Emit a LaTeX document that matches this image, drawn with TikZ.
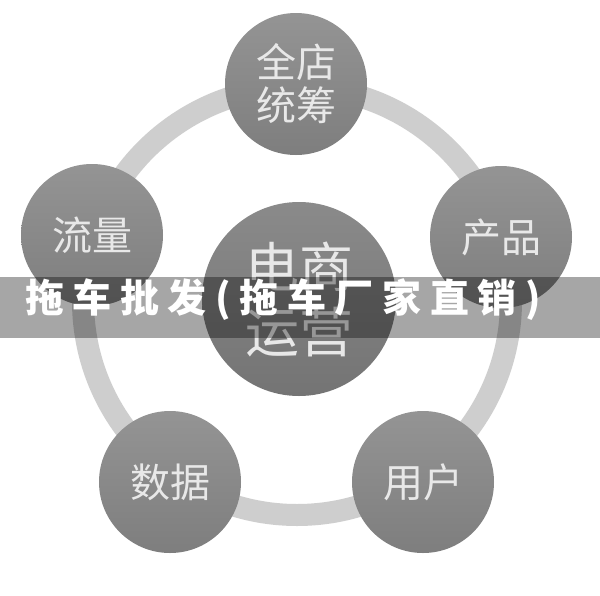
\documentclass[tikz,border=0pt]{standalone}
\usepackage{fontspec}
\newfontfamily\cjk{Noto Sans CJK SC}
\newfontfamily\cjkbanner[LetterSpace=22]{Noto Sans CJK SC}
\definecolor{ringgray}{RGB}{206,206,206}
\definecolor{bubtop}{RGB}{148,148,148}
\definecolor{bubbot}{RGB}{126,126,126}
\definecolor{centop}{RGB}{138,138,138}
\definecolor{cenbot}{RGB}{116,116,116}
\definecolor{labelgray}{RGB}{232,232,232}
\tikzset{
  bubble/.style={circle, inner sep=0pt, minimum size=142pt, top color=bubtop, bottom color=bubbot, shading angle=0, text=labelgray, align=center, font=\fontsize{40}{43}\selectfont\cjk},
  hub/.style={circle, inner sep=0pt, minimum size=194pt, top color=centop, bottom color=cenbot, text=labelgray, align=center, font=\fontsize{54}{65}\selectfont\cjk},
  ringstyle/.style={circle, draw=ringgray, line width=22pt, inner sep=0pt, minimum size=428pt},
  bandstyle/.style={fill=black, fill opacity=0.35, inner sep=0pt, minimum width=600pt, minimum height=61pt, anchor=north west},
  titlestyle/.style={text=white, font=\fontsize{39}{40}\selectfont\cjkbanner\bfseries, inner sep=0pt}
}
\begin{document}
\begin{tikzpicture}[x=1pt,y=-1pt]
\useasboundingbox (0,0) rectangle (600,595);
\fill[white] (0,0) rectangle (600,595);
\node[ringstyle] (ring) at (297,301) {};
\node[bubble] (quan) at (296,84) {全店\\统筹};
\node[bubble] (liu) at (92,235) {流量};
\node[bubble] (chan) at (501,237) {产品};
\node[bubble] (shu) at (170,482) {数据};
\node[bubble] (yong) at (423,482) {用户};
\node[hub] (hubnode) at (299,299) {电商\\运营};
\node[bandstyle] (band) at (0,277) {};
\node[titlestyle] (title) at (283,300) {拖车批发(拖车厂家直销)};
\end{tikzpicture}
\end{document}
